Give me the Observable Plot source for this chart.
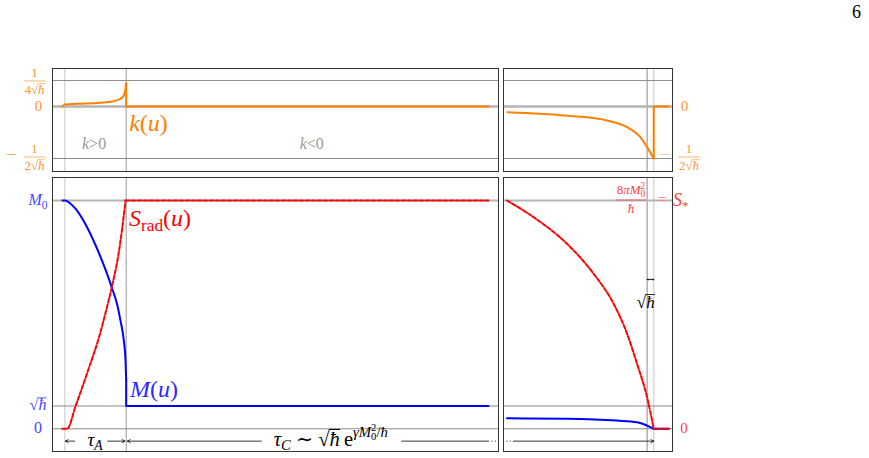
<!DOCTYPE html>
<html><head><meta charset="utf-8">
<script src="https://cdn.jsdelivr.net/npm/d3@7"></script>
<script src="https://cdn.jsdelivr.net/npm/@observablehq/plot@0.6"></script>
<style>
body{margin:0;background:#fff;}
#fig{position:relative;width:869px;height:458px;font-family:"Liberation Serif",serif;overflow:hidden;}
#page{position:absolute;left:852px;top:2px;font-size:18px;font-family:"Liberation Serif",serif;}
</style></head><body>
<div id="fig"><div id="page">6</div></div>
<script>
// ---------- data ----------
// left panels: u in units of tau_A (u=0 start, u=1 end of phase A)
const tauA = [0, 1];
// right panels: v = time relative to end of evaporation, sqrt(hbar) gap before end
const endLines = [-0.044, 0];
// k(u) curves (units of 1/sqrt(hbar))
const uLeftK = [-0.04, 0, 0.2, 0.58, 0.793, 0.907, 0.961, 0.989, 1, 1, 6.9];
const kLeft  = [0, 0.019, 0.026, 0.036, 0.051, 0.074, 0.106, 0.17, 0.224, 0, 0];
const vRightK = [-0.973, -0.755, -0.533, -0.311, -0.177, -0.089, -0.044, 0, 0, 0.1];
const kRight  = [-0.055, -0.07, -0.093, -0.135, -0.199, -0.295, -0.391, -0.5, 0, 0];
// M(u) and S_rad(u) (units of M0 and S*)
const uLeftM = [-0.037, 0, 0.174, 0.337, 0.5, 0.663, 0.772, 0.853, 0.907, 0.961, 0.989, 1, 1, 6.9];
const mLeft  = [1, 1, 0.964, 0.896, 0.805, 0.697, 0.614, 0.544, 0.474, 0.387, 0.3, 0.212, 0.1, 0.1];
const uLeftS = [-0.042, 0.039, 0.174, 0.391, 0.554, 0.663, 0.772, 0.879, 0.935, 0.99, 1, 6.9];
const sLeft  = [0, 0, 0.098, 0.265, 0.398, 0.507, 0.628, 0.772, 0.878, 1, 1, 1];
const vRightS = [-0.977, -0.8, -0.577, -0.4, -0.267, -0.177, -0.111, -0.044, 0, 0.1];
const sRight  = [1, 0.927, 0.81, 0.679, 0.548, 0.416, 0.285, 0.138, 0, 0];
const vRightM = [-0.977, -0.577, -0.244, -0.111, -0.044, 0, 0.1];
const mRight  = [0.046, 0.044, 0.036, 0.029, 0.014, 0, 0];
// grid / tick values
const kGrid = [0.25, -0.5];
const mGridLight = [1];
const mGrid = [0.1, 0];
const kTickLabels = [
  {v: 0.25, num: "1", den: "4\\sqrt{ħ}"},
  {v: 0, text: "0"},
  {v: -0.5, num: "1", den: "2\\sqrt{ħ}", minus: true}
];
const mTickLabels = [
  {v: 1, text: "M_{0}"},
  {v: 0.1, text: "\\sqrt{ħ}"},
  {v: 0, text: "0"}
];
const kRegions = [{u: 0.485, k: -0.365, text: "k>0"}, {u: 4.03, k: -0.365, text: "k<0"}];
const arrowY = -0.054;
const tauCLabelU = 4.34;
const markY = 0.654;

// ---------- helpers ----------
const FONT = '"Liberation Serif","DejaVu Serif",serif';
const ORANGE = "#ff8000", BLUE = "#0000ff", RED = "#ff0000";
const ORANGE_T = "#ff9533", BLUE_T = "#4646ff", RED_T = "#ff4040";
const fig = document.getElementById("fig");
function place(chart, left, top) {
  chart.style.position = "absolute";
  chart.style.left = left + "px";
  chart.style.top = top + "px";
  fig.appendChild(chart);
  return chart;
}
function grab(str, i) {
  let d = 0, j = i;
  for (; j < str.length; j++) {
    if (str[j] === "{") d++;
    else if (str[j] === "}") { d--; if (d === 0) break; }
  }
  return [str.slice(i + 1, j), j + 1];
}
function parseTex(str, out, st) {
  let i = 0, lastSub = null;
  while (i < str.length) {
    if (str.startsWith("\\sqrt{", i)) {
      const [inner, j] = grab(str, i + 5);
      out.push({t: "√", shift: st.shift, scale: st.scale, it: false, rad: true});
      const s0 = out.length;
      parseTex(inner, out, {...st});
      out[s0 - 1].radEnd = out.length - 1;
      i = j; lastSub = null; continue;
    }
    if (str.startsWith("\\rm{", i)) {
      const [inner, j] = grab(str, i + 3);
      parseTex(inner, out, {...st, rm: true}); i = j; lastSub = null; continue;
    }
    const c = str[i];
    if ((c === "_" || c === "^") && str[i + 1] === "{") {
      const [inner, j] = grab(str, i + 1);
      const sub = c === "_";
      const start = out.length;
      parseTex(inner, out, {...st, scale: st.scale * 0.72, shift: st.shift + (sub ? 0.22 : -0.42) * st.scale});
      const grp = {start, end: out.length};
      if (!sub && lastSub && out[start]) out[start].back = lastSub;
      lastSub = sub ? grp : null;
      i = j; continue;
    }
    out.push({t: c, shift: st.shift, scale: st.scale, it: !st.rm && /[A-Za-zα-ωħ]/.test(c)});
    lastSub = null; i++;
  }
}
function tex(g, str, x, y, o = {}) {
  const size = o.size || 14;
  const color = o.color || "black";
  const segs = [];
  parseTex(str, segs, {shift: 0, scale: 1, rm: false});
  const t = g.append("text").attr("x", x).attr("y", y)
    .attr("text-anchor", o.anchor || "start").attr("fill", color)
    .attr("font-family", FONT).attr("font-size", size).style("white-space", "pre");
  let cur = 0; const nodes = [];
  segs.forEach(s => {
    const ts = t.append("tspan").text(s.t).attr("font-size", size * s.scale);
    const dy = (s.shift - cur) * size; if (dy) ts.attr("dy", dy); cur = s.shift;
    if (s.it) ts.attr("font-style", "italic");
    if (s.back) {
      let w = 0;
      for (let q = s.back.start; q < s.back.end; q++) w += nodes[q].getComputedTextLength();
      ts.attr("dx", -w);
    }
    nodes.push(ts.node());
  });
  // radical overlines
  const tn = t.node();
  segs.forEach((s, k) => {
    if (!s.rad) return;
    const e0 = tn.getExtentOfChar(k), e1 = tn.getExtentOfChar(s.radEnd);
    const fs = size * s.scale;
    const ly = y + s.shift * size - 0.79 * fs;
    g.append("line").attr("x1", e0.x + e0.width - 0.6).attr("x2", e1.x + e1.width + 0.3)
      .attr("y1", ly).attr("y2", ly).attr("stroke", color).attr("stroke-width", Math.max(0.6, fs * 0.05));
  });
  return t;
}
function frac(g, num, den, cx, cy, o) {
  const size = o.size, lift = o.lift || 0.28;
  const n = tex(g, num, cx, cy - lift * size, {...o, anchor: "middle"});
  const d = tex(g, den, cx, cy + 1.0 * size, {...o, anchor: "middle"});
  const w = Math.max(n.node().getBBox().width, d.node().getBBox().width) + 1.5;
  g.append("line").attr("x1", cx - w / 2).attr("x2", cx + w / 2).attr("y1", cy).attr("y2", cy)
    .attr("stroke", o.color).attr("stroke-width", 0.7);
}
const style = {background: "transparent", overflow: "visible", fontFamily: FONT};
// a series drawn as a smooth part followed by straight jumps
function series(us, vs, smoothEnd, opts) {
  const pts = d3.zip(us, vs);
  return [
    Plot.line(pts.slice(0, smoothEnd + 1), {x: d => d[0], y: d => d[1], curve: "monotone-x", ...opts}),
    Plot.line(pts.slice(smoothEnd), {x: d => d[0], y: d => d[1], ...opts})
  ];
}
const arrowOpts = {stroke: "black", strokeWidth: 0.8, headLength: 6};

// ---------- top-left: k(u) ----------
const tl = place(Plot.plot({
  width: 500, height: 113, marginLeft: 52, marginRight: 2, marginTop: 8, marginBottom: 2,
  x: {domain: [-0.2, 7.063], axis: null}, y: {domain: [-0.625, 0.365], axis: null}, style,
  marks: [
    Plot.ruleX([tauA[0]], {stroke: "#d8d8d8", strokeWidth: 1.4}),
    Plot.ruleX([tauA[1]], {stroke: "#9a9a9a"}),
    Plot.ruleY([0], {stroke: "#b4b4b4", strokeWidth: 2.4}),
    Plot.ruleY(kGrid, {stroke: "#8a8a8a"}),
    ...series(uLeftK, kLeft, 8, {stroke: ORANGE, strokeWidth: 2}),
    Plot.frame({stroke: "#333"})
  ]
}), 0, 60);
{
  const X = tl.scale("x").apply, Y = tl.scale("y").apply, g = d3.select(tl).append("g");
  for (const t of kTickLabels) {
    if (t.text) tex(g, t.text, 38.5, Y(t.v) + 5, {size: 15, color: ORANGE_T, anchor: "middle"});
    else {
      frac(g, t.num, t.den, 34.5, Y(t.v) + (t.minus ? -1 : 1), {size: 13, color: ORANGE_T});
      if (t.minus) tex(g, "−", 11, Y(t.v) + 2.5, {size: 17, color: ORANGE_T, anchor: "middle"});
    }
  }
  for (const r of kRegions) tex(g, r.text, X(r.u), Y(r.k) + 5, {size: 16, color: "#999", anchor: "middle"});
  tex(g, "k(u)", X(1) + 3.5, Y(0) + 25, {size: 24, color: ORANGE});
}

// ---------- top-right: k near the end ----------
const tr = place(Plot.plot({
  width: 220, height: 113, marginLeft: 3, marginRight: 48, marginTop: 8, marginBottom: 2,
  x: {domain: [-1, 0.125], axis: null}, y: {domain: [-0.625, 0.365], axis: null}, style,
  marks: [
    Plot.ruleX([endLines[0]], {stroke: "#8a8a8a"}),
    Plot.ruleX([endLines[1]], {stroke: "#d8d8d8", strokeWidth: 1.4}),
    Plot.ruleY([0], {stroke: "#b4b4b4", strokeWidth: 2.4}),
    Plot.ruleY(kGrid, {stroke: "#8a8a8a"}),
    ...series(vRightK, kRight, 7, {stroke: ORANGE, strokeWidth: 2}),
    Plot.frame({stroke: "#333"})
  ]
}), 500, 60);
{
  const Y = tr.scale("y").apply, g = d3.select(tr).append("g");
  tex(g, "0", 184.5, Y(0) + 5, {size: 15, color: ORANGE_T, anchor: "middle"});
  tex(g, "−", 165, Y(-0.5) + 2, {size: 17, color: "#ffb06a", anchor: "middle"});
  frac(g, "1", "2\\sqrt{ħ}", 189, Y(-0.5) - 1, {size: 13, color: ORANGE_T});
}

// ---------- bottom-left: M(u), S_rad(u) ----------
const bl = place(Plot.plot({
  width: 500, height: 285, marginLeft: 52, marginRight: 2, marginTop: 4, marginBottom: 7,
  x: {domain: [-0.2, 7.063], axis: null}, y: {domain: [-0.0994, 1.1007], axis: null}, style,
  marks: [
    Plot.ruleX([tauA[0]], {stroke: "#d8d8d8", strokeWidth: 1.4}),
    Plot.ruleX([tauA[1]], {stroke: "#9a9a9a"}),
    Plot.ruleY(mGridLight, {stroke: "#b4b4b4", strokeWidth: 2}),
    Plot.ruleY(mGrid, {stroke: "#8a8a8a"}),
    ...series(uLeftM, mLeft, 11, {stroke: BLUE, strokeWidth: 2}),
    ...series(uLeftS, sLeft, 9, {stroke: RED, strokeWidth: 2, strokeDasharray: "4,2"}),
    Plot.arrow([0], {x1: 0.16, x2: tauA[0] + 0.01, y1: arrowY, y2: arrowY, ...arrowOpts}),
    Plot.arrow([0], {x1: 0.7, x2: tauA[1] - 0.02, y1: arrowY, y2: arrowY, ...arrowOpts}),
    Plot.arrow([0], {x1: 3.2, x2: tauA[1] + 0.02, y1: arrowY, y2: arrowY, ...arrowOpts}),
    Plot.ruleY([arrowY], {x1: 5.49, x2: 6.9, stroke: "black", strokeWidth: 0.8}),
    Plot.ruleY([arrowY], {x1: 6.9, x2: 7.063, stroke: "black", strokeWidth: 0.8, strokeDasharray: "1,2.5"}),
    Plot.frame({stroke: "#333"})
  ]
}), 0, 173);
{
  const X = bl.scale("x").apply, Y = bl.scale("y").apply, g = d3.select(bl).append("g");
  for (const t of mTickLabels) tex(g, t.text, 38, Y(t.v) + 5, {size: 16, color: BLUE_T, anchor: "middle"});
  tex(g, "S_{\\rm{rad}}(u)", X(1) + 3.3, Y(1) + 26, {size: 24, color: RED});
  tex(g, "M(u)", X(1) + 4.3, Y(0.1) - 8, {size: 24, color: "#2a2aff"});
  tex(g, "τ_{A}", X(0.5), Y(arrowY) + 5, {size: 19, anchor: "middle"});
  tex(g, "τ_{C} ∼ \\sqrt{ħ}\u2009\\rm{e}^{γM_{0}^{2}/ħ}", X(tauCLabelU), Y(arrowY) + 5, {size: 20.5, anchor: "middle"});
}

// ---------- bottom-right: near the end ----------
const br = place(Plot.plot({
  width: 220, height: 285, marginLeft: 3, marginRight: 48, marginTop: 4, marginBottom: 7,
  x: {domain: [-1, 0.125], axis: null}, y: {domain: [-0.0994, 1.1007], axis: null}, style,
  marks: [
    Plot.ruleX([endLines[0]], {stroke: "#8a8a8a"}),
    Plot.ruleX([endLines[1]], {stroke: "#d8d8d8", strokeWidth: 1.4}),
    Plot.ruleY(mGridLight, {stroke: "#b4b4b4", strokeWidth: 2}),
    Plot.ruleY(mGrid, {stroke: "#8a8a8a"}),
    ...series(vRightM, mRight, 5, {stroke: BLUE, strokeWidth: 2}),
    ...series(vRightS, sRight, 8, {stroke: RED, strokeWidth: 2, strokeDasharray: "4,2"}),
    Plot.ruleY([arrowY], {x1: -1, x2: -0.935, stroke: "black", strokeWidth: 0.8, strokeDasharray: "1,2.5"}),
    Plot.arrow([0], {x1: -0.935, x2: endLines[1], y1: arrowY, y2: arrowY, ...arrowOpts}),
    Plot.arrow([0], {x1: -0.022, x2: endLines[0], y1: markY, y2: markY, stroke: "black", strokeWidth: 0.8, headLength: 3.5}),
    Plot.arrow([0], {x1: -0.022, x2: endLines[1], y1: markY, y2: markY, stroke: "black", strokeWidth: 0.8, headLength: 3.5}),
    Plot.frame({stroke: "#333"})
  ]
}), 500, 173);
{
  const X = br.scale("x").apply, Y = br.scale("y").apply, g = d3.select(br).append("g");
  tex(g, "0", 184, Y(0) + 5, {size: 15, color: RED_T, anchor: "middle"});
  frac(g, "8πM_{0}^{2}", "ħ", 131, Y(1), {size: 13, color: RED_T, lift: 0.45});
  tex(g, "=", 162, Y(1) + 5, {size: 16, color: "#ff8080", anchor: "middle"});
  tex(g, "S_{*}", 173, Y(1) + 6, {size: 18, color: RED_T});
  tex(g, "\\sqrt{ħ}", X(-0.05), Y(markY) + 29, {size: 17, anchor: "middle"});
}
</script>
</body></html>
